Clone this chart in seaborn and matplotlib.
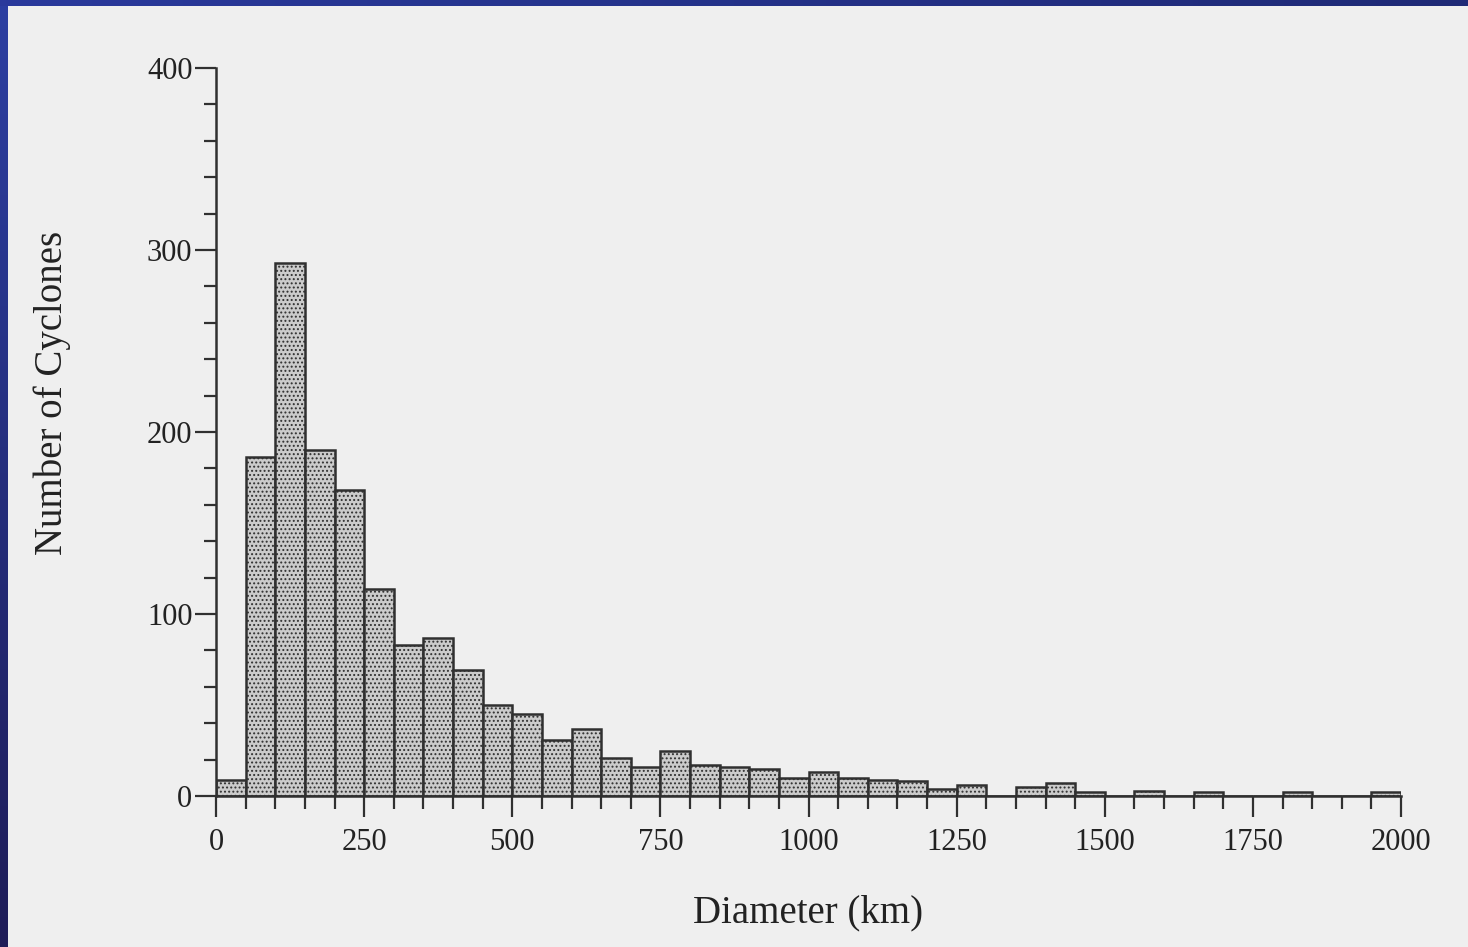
import numpy as np
import pandas as pd
import matplotlib
matplotlib.use("Agg")
import matplotlib.pyplot as plt
from matplotlib.colors import LinearSegmentedColormap
from matplotlib.ticker import MultipleLocator
import seaborn as sns

# Cyclone diameter classes (50 km bins, 0-2000 km)
bin_edges = list(range(0, 2001, 50))
bin_centers = [edge + 25 for edge in bin_edges[:-1]]

# Number of cyclones in each diameter class
cyclone_counts = [
    9, 186, 293, 190, 168, 114, 83, 87, 69, 50,
    45, 31, 37, 21, 16, 25, 17, 16, 15, 10,
    13, 10, 9, 8, 4, 6, 0, 5, 7, 2,
    0, 3, 0, 2, 0, 0, 2, 0, 0, 2,
]

x_ticks = [0, 250, 500, 750, 1000, 1250, 1500, 1750, 2000]
y_ticks = [0, 100, 200, 300, 400]

df = pd.DataFrame({"diameter": bin_centers, "count": cyclone_counts})

sns.set_style("ticks")
plt.rcParams["font.family"] = ["Liberation Serif", "DejaVu Serif"]
plt.rcParams["hatch.linewidth"] = 0.9
plt.rcParams["hatch.color"] = "#8a8a8a"

ink = "#303030"
text_ink = "#222222"
paper = "#efefef"

fig = plt.figure(figsize=(14.68, 9.47), dpi=100, facecolor=paper)

# blue frame strips along the left and top edges
frame_cmap = LinearSegmentedColormap.from_list("frame", ["#2c3fa2", "#1f1d58"])
ax_left = fig.add_axes([0, 0, 8 / 1468, 1])
ax_left.imshow(np.linspace(0, 1, 256).reshape(-1, 1), aspect="auto", cmap=frame_cmap)
ax_left.axis("off")
top_cmap = LinearSegmentedColormap.from_list("frame_top", ["#2a3a9c", "#1f2a76"])
ax_top = fig.add_axes([0, 1 - 6 / 947, 1, 6 / 947])
ax_top.imshow(np.linspace(0, 1, 256).reshape(1, -1), aspect="auto", cmap=top_cmap)
ax_top.axis("off")

ax = fig.add_axes([216 / 1468, 151 / 947, 1185 / 1468, 728 / 947])
ax.set_facecolor("none")

sns.histplot(
    data=df,
    x="diameter",
    weights="count",
    bins=bin_edges,
    stat="count",
    element="bars",
    fill=True,
    color="#c6c6c6",
    alpha=1.0,
    edgecolor=ink,
    linewidth=1.8,
    hatch="....",
    ax=ax,
)
for patch in ax.patches:
    patch.set_facecolor("#cbcbcb")
    patch.set_edgecolor(ink)

ax.set_xlim(0, 2000)
ax.set_ylim(0, 400)
ax.set_xticks(x_ticks)
ax.set_yticks(y_ticks)
ax.xaxis.set_minor_locator(MultipleLocator(50))
ax.yaxis.set_minor_locator(MultipleLocator(20))

sns.despine(ax=ax, top=True, right=True)
for side in ("left", "bottom"):
    ax.spines[side].set_color(ink)
    ax.spines[side].set_linewidth(1.8)

ax.tick_params(axis="both", which="major", direction="out", length=15, width=1.6,
               color=ink, labelcolor=text_ink, labelsize=22)
ax.tick_params(axis="both", which="minor", direction="out", length=9, width=1.6, color=ink)
ax.tick_params(axis="x", which="major", pad=8)
ax.tick_params(axis="y", which="major", pad=2)

ax.set_xlabel("Diameter (km)", fontsize=28, color=text_ink)
ax.set_ylabel("Number of Cyclones", fontsize=28, color=text_ink)
ax.xaxis.set_label_coords(0.5, -0.135)
ax.yaxis.set_label_coords(-0.122, 0.554)

fig.savefig("out.png", dpi=100, facecolor=paper)
